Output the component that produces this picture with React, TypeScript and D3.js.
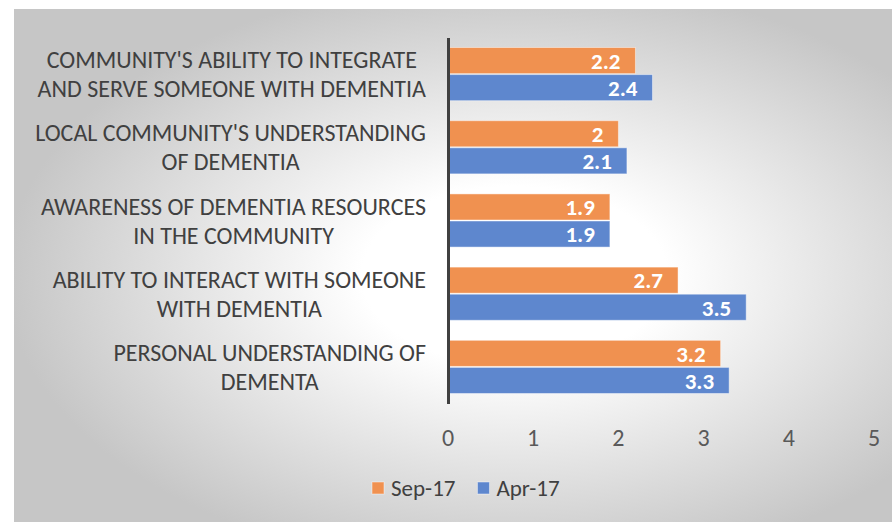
import React, { useEffect, useRef } from "react";
import * as d3 from "d3";

// Chart values
const categories = [
  "COMMUNITY'S ABILITY TO INTEGRATE|AND SERVE SOMEONE WITH DEMENTIA",
  "LOCAL COMMUNITY'S UNDERSTANDING|OF DEMENTIA",
  "AWARENESS OF DEMENTIA RESOURCES|IN THE COMMUNITY",
  "ABILITY TO INTERACT WITH SOMEONE|WITH DEMENTIA",
  "PERSONAL UNDERSTANDING OF|DEMENTA",
];
const seriesNames = ["Sep-17", "Apr-17"];
const sep17Values = [2.2, 2, 1.9, 2.7, 3.2];
const apr17Values = [2.4, 2.1, 1.9, 3.5, 3.3];
const xTicks = [0, 1, 2, 3, 4, 5];

const FONT = "Carlito, 'Liberation Sans Narrow', 'Open Sans', sans-serif";

const App: React.FC = () => {
  const svgRef = useRef<SVGSVGElement>(null);

  useEffect(() => {
    if (!svgRef.current) return;
    const svg = d3.select(svgRef.current);
    svg.selectAll("*").remove();

    const W = 892;
    const H = 522;
    const colors: { [k: string]: string } = { "Sep-17": "#F09150", "Apr-17": "#5E87CE" };
    const valuesBySeries: { [k: string]: number[] } = { "Sep-17": sep17Values, "Apr-17": apr17Values };

    // background gradient
    const defs = svg.append("defs");
    const grad = defs.append("radialGradient")
      .attr("id", "bg")
      .attr("cx", 0.57)
      .attr("cy", 0.52)
      .attr("r", 0.58);
    grad.append("stop").attr("offset", "0").attr("stop-color", "#ffffff");
    grad.append("stop").attr("offset", "0.3").attr("stop-color", "#ffffff");
    grad.append("stop").attr("offset", "1").attr("stop-color", "#c6c6c6");

    svg.append("rect")
      .attr("x", 14).attr("y", 9)
      .attr("width", W - 14).attr("height", H - 9)
      .attr("fill", "url(#bg)");

    const x = d3.scaleLinear().domain([0, 5]).range([448, 874]);
    const y = d3.scaleBand<number>()
      .domain(d3.range(categories.length))
      .range([37.5, 403.5])
      .paddingInner(0.26)
      .paddingOuter(0.13);
    const ySub = d3.scaleBand<string>().domain(seriesNames).range([0, y.bandwidth()]);

    const g = svg.append("g");

    // bars
    seriesNames.forEach(name => {
      const vals = valuesBySeries[name];
      const bars = g.append("g");
      bars.selectAll("rect")
        .data(vals)
        .join("rect")
        .attr("x", x(0))
        .attr("y", (_, i) => (y(i) as number) + (ySub(name) as number) + 0.5)
        .attr("width", d => x(d) - x(0))
        .attr("height", ySub.bandwidth() - 1)
        .attr("fill", colors[name])
        .attr("stroke", "rgba(255,255,255,0.45)")
        .attr("stroke-width", 1);

      bars.selectAll("text")
        .data(vals)
        .join("text")
        .attr("x", d => x(d) - 15)
        .attr("y", (_, i) => (y(i) as number) + (ySub(name) as number) + ySub.bandwidth() / 2)
        .attr("dy", "0.36em")
        .attr("text-anchor", "end")
        .attr("font-family", FONT)
        .attr("font-weight", "bold")
        .attr("font-size", 23)
        .attr("fill", "#ffffff")
        .text(d => String(d));
    });

    // vertical axis line
    g.append("line")
      .attr("x1", x(0) + 0.5).attr("x2", x(0) + 0.5)
      .attr("y1", 38).attr("y2", 404)
      .attr("stroke", "#404040")
      .attr("stroke-width", 3);

    // category labels: lines centered in a block right-aligned to the axis
    const labelRight = 426;
    categories.forEach((cat, i) => {
      const lines = cat.split("|");
      const cy = (y(i) as number) + y.bandwidth() / 2;
      const lg = g.append("g");
      const texts = lines.map((line, j) =>
        lg.append("text")
          .attr("y", cy + (j - (lines.length - 1) / 2) * 29)
          .attr("dy", "0.36em")
          .attr("text-anchor", "middle")
          .attr("font-family", FONT)
          .attr("font-size", 24)
          .attr("fill", "#404040")
          .text(line)
      );
      const maxW = d3.max(texts, t => (t.node() as SVGTextElement).getComputedTextLength()) || 0;
      texts.forEach(t => t.attr("x", labelRight - maxW / 2));
    });

    // x tick labels
    g.append("g").selectAll("text")
      .data(xTicks)
      .join("text")
      .attr("x", d => x(d))
      .attr("y", 437)
      .attr("dy", "0.36em")
      .attr("text-anchor", "middle")
      .attr("font-family", FONT)
      .attr("font-size", 24)
      .attr("fill", "#595959")
      .text(d => String(d));

    // legend
    const legend = g.append("g");
    let lx = 372;
    seriesNames.forEach(name => {
      legend.append("rect")
        .attr("x", lx).attr("y", 482)
        .attr("width", 12).attr("height", 12)
        .attr("fill", colors[name])
        .attr("stroke", "rgba(255,255,255,0.45)");
      const t = legend.append("text")
        .attr("x", lx + 19)
        .attr("y", 488)
        .attr("dy", "0.36em")
        .attr("font-family", FONT)
        .attr("font-size", 23)
        .attr("fill", "#404040")
        .text(name);
      lx += 19 + (t.node() as SVGTextElement).getComputedTextLength() + 22;
    });
  }, []);

  return (
    <div style={{ position: "absolute", left: 0, top: 0, width: 892, height: 522, background: "#fff" }}>
      <svg ref={svgRef} width={892} height={522} style={{ display: "block" }} />
    </div>
  );
};

export default App;
